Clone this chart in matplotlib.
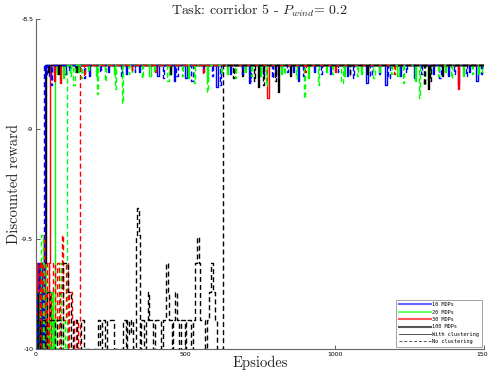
import matplotlib
matplotlib.use('Agg')
import matplotlib.pyplot as plt
from matplotlib.lines import Line2D
import numpy as np

plt.rcParams['mathtext.fontset'] = 'cm'

# plateau value reached after convergence
plateau = -8.71
n_episodes = 1500

# early (pre-convergence) step values: episodes / rewards, then convergence episode
blue_s_early_ep = [0, 3, 6, 9, 12, 15, 18, 21, 24, 27]
blue_s_early_val = [-9.61, -10, -9.61, -9.87, -9.61, -10, -9.74, -9.61, -9.87, -9.74]
blue_s_conv = 30
blue_d_early_ep = [0, 5, 10, 15, 20]
blue_d_early_val = [-9.74, -10, -9.87, -9.61, -10]
blue_d_conv = 26
green_s_early_ep = [0, 5, 10, 14, 20, 26, 30, 38, 44, 50, 56, 60]
green_s_early_val = [-10, -9.74, -10, -9.87, -10, -9.61, -10, -9.87, -10, -9.74, -10, -9.87]
green_s_conv = 64
green_d_early_ep = [0, 6, 12, 18, 22, 28, 34, 40, 48, 55, 62, 70, 78, 85, 92, 98]
green_d_early_val = [-9.87, -10, -9.74, -9.48, -10, -9.61, -9.87, -10, -9.74, -10, -9.87, -10,
                     -9.61, -10, -9.87, -10]
green_d_conv = 104
red_s_early_ep = [0, 4, 8, 12, 16, 20, 26, 30, 35, 40, 44]
red_s_early_val = [-9.61, -10, -9.74, -9.87, -9.61, -10, -9.48, -9.74, -10, -9.87, -9.61]
red_s_conv = 47
red_d_early_ep = [0, 6, 12, 18, 24, 30, 36, 42, 50, 56, 62, 70, 76, 82, 87, 92, 100, 106, 112,
                  120, 128, 134, 140]
red_d_early_val = [-9.74, -9.61, -10, -9.61, -9.74, -9.87, -9.61, -10, -9.74, -9.61, -9.87, -9.61,
                   -10, -9.74, -9.48, -9.87, -9.61, -10, -9.74, -9.87, -10, -9.87, -10]
red_d_conv = 147
black_s_early_ep = [0, 4, 8, 14, 18, 24, 28]
black_s_early_val = [-9.87, -10, -9.74, -10, -9.87, -10, -9.61]
black_s_conv = 33
black_d_early_ep = [0, 8, 14, 30, 38, 46, 62, 70, 84, 92, 108, 116, 124, 136, 150, 160, 208, 216,
                    220, 232, 238, 262, 290, 300, 304, 312, 318, 326, 334, 337, 344, 348, 352,
                    362, 368, 374, 380, 392, 398, 420, 426, 434, 441, 446, 456, 460, 466, 472,
                    480, 484, 500, 504, 520, 526, 532, 538, 546, 550, 566, 574, 580, 586, 594,
                    598, 606]
black_d_early_val = [-9.87, -10, -9.87, -10, -9.74, -9.87, -10, -9.87, -10, -9.61, -9.74, -10,
                     -9.87, -10, -9.87, -10, -9.87, -10, -9.87, -10, -9.87, -10, -9.87, -10,
                     -9.87, -9.93, -9.87, -10, -9.48, -9.36, -9.48, -10, -9.87, -10, -9.87,
                     -9.74, -9.87, -10, -9.87, -10, -9.87, -9.61, -9.74, -9.87, -10, -9.87,
                     -9.74, -9.87, -10, -9.87, -10, -9.87, -10, -9.87, -9.61, -9.49, -9.61,
                     -9.87, -10, -9.87, -9.74, -9.61, -9.74, -9.87, -10]
black_d_conv = 626

# dips below the plateau after convergence: start episode, reward, width
blue_s_dip_ep = [45, 60, 95, 130, 178, 240, 300, 345, 405, 462, 500, 560, 604, 650, 712, 760,
                 800, 860, 877, 930, 985, 1040, 1105, 1150, 1168, 1220, 1265, 1330, 1380, 1412,
                 1450, 1473]
blue_s_dip_val = [-8.76, -8.74, -8.75, -8.73, -8.76, -8.74, -8.75, -8.74, -8.76, -8.78, -8.77,
                  -8.74, -8.81, -8.75, -8.79, -8.75, -8.76, -8.74, -8.78, -8.74, -8.75, -8.76,
                  -8.79, -8.75, -8.80, -8.76, -8.77, -8.75, -8.76, -8.80, -8.74, -8.78]
blue_s_dip_w = [4, 3, 5, 3, 4, 3, 4, 3, 6, 5, 6, 3, 6, 3, 5, 4, 3, 3, 5, 3, 4, 5, 6, 3, 6, 4, 5,
                4, 3, 6, 3, 6]
blue_d_dip_ep = [35, 50, 110, 160, 215, 285, 330, 425, 470, 520, 590, 616, 690, 716, 790, 840,
                 895, 955, 1010, 1060, 1120, 1180, 1240, 1290, 1350, 1400, 1440, 1490]
blue_d_dip_val = [-8.75, -8.80, -8.74, -8.77, -8.74, -8.76, -8.74, -8.77, -8.76, -8.78, -8.76,
                  -8.80, -8.75, -8.78, -8.77, -8.74, -8.76, -8.75, -8.74, -8.77, -8.76, -8.77,
                  -8.74, -8.75, -8.77, -8.75, -8.76, -8.75]
blue_d_dip_w = [3, 3, 3, 5, 3, 4, 3, 4, 5, 5, 4, 5, 3, 5, 4, 3, 4, 3, 3, 5, 4, 5, 3, 3, 5, 3, 4, 3]
green_s_dip_ep = [70, 90, 140, 200, 260, 320, 380, 450, 510, 571, 640, 700, 750, 820, 910, 970,
                  1030, 1090, 1150, 1210, 1270, 1320, 1370, 1430, 1480]
green_s_dip_val = [-8.75, -8.77, -8.74, -8.76, -8.75, -8.74, -8.76, -8.75, -8.77, -8.78, -8.75,
                   -8.74, -8.76, -8.75, -8.77, -8.74, -8.76, -8.75, -8.74, -8.76, -8.78, -8.75,
                   -8.74, -8.76, -8.75]
green_s_dip_w = [3, 4, 3, 4, 3, 3, 4, 3, 4, 4, 3, 3, 4, 3, 4, 3, 4, 3, 3, 4, 4, 3, 3, 4, 3]
green_d_dip_ep = [115, 125, 150, 175, 203, 230, 264, 287, 310, 355, 395, 440, 490, 530, 571, 620,
                  665, 720, 770, 830, 870, 897, 944, 990, 1023, 1075, 1130, 1190, 1230, 1282,
                  1300, 1345, 1390, 1460, 1495]
green_d_dip_val = [-8.76, -8.80, -8.77, -8.74, -8.84, -8.78, -8.82, -8.88, -8.75, -8.77, -8.74,
                   -8.78, -8.76, -8.79, -8.83, -8.75, -8.77, -8.76, -8.80, -8.75, -8.77, -8.86,
                   -8.80, -8.75, -8.79, -8.76, -8.77, -8.75, -8.79, -8.86, -8.80, -8.76, -8.77,
                   -8.75, -8.74]
green_d_dip_w = [3, 4, 3, 3, 4, 3, 4, 3, 3, 4, 3, 4, 3, 4, 4, 3, 4, 3, 3, 3, 4, 4, 4, 3, 4, 3, 4,
                 3, 4, 4, 3, 3, 4, 3, 3]
red_s_dip_ep = [60, 80, 400, 774, 1000, 1412]
red_s_dip_val = [-8.78, -8.79, -8.74, -8.86, -8.74, -8.82]
red_s_dip_w = [4, 4, 3, 5, 3, 6]
red_d_dip_ep = [160, 320, 560, 900, 1200]
red_d_dip_val = [-8.76, -8.74, -8.75, -8.74, -8.75]
red_d_dip_w = [4, 3, 3, 3, 3]
black_s_dip_ep = [40, 75, 135, 450, 690, 744, 809, 850, 1110, 1312, 1360]
black_s_dip_val = [-8.74, -8.75, -8.74, -8.75, -8.76, -8.81, -8.83, -8.76, -8.75, -8.82, -8.76]
black_s_dip_w = [3, 3, 4, 3, 4, 4, 4, 3, 3, 4, 3]
black_d_dip_ep = [660, 730, 760, 800, 1050, 1300, 1320]
black_d_dip_val = [-8.77, -8.78, -8.80, -8.78, -8.76, -8.80, -8.78]
black_d_dip_w = [4, 4, 3, 3, 3, 4, 3]


def build_curve(early_ep, early_val, conv, dip_ep, dip_val, dip_w):
    # step points: early phase, plateau, then dips back to the plateau
    xs = list(early_ep) + [conv]
    ys = list(early_val) + [plateau]
    for e, v, w in zip(dip_ep, dip_val, dip_w):
        xs += [e, e + w]
        ys += [v, plateau]
    xs.append(n_episodes)
    ys.append(plateau)
    order = np.argsort(xs, kind='stable')
    return np.array(xs)[order], np.array(ys)[order]


fig = plt.figure(figsize=(4.89, 3.72), dpi=100)
ax = fig.add_axes([0.0736, 0.062, 0.916, 0.887])

dash = (0, (3.6, 2.2))
curves = [
    (blue_s_early_ep, blue_s_early_val, blue_s_conv, blue_s_dip_ep, blue_s_dip_val, blue_s_dip_w, 'b', '-'),
    (green_s_early_ep, green_s_early_val, green_s_conv, green_s_dip_ep, green_s_dip_val, green_s_dip_w, '#00ff00', '-'),
    (red_s_early_ep, red_s_early_val, red_s_conv, red_s_dip_ep, red_s_dip_val, red_s_dip_w, 'r', '-'),
    (black_s_early_ep, black_s_early_val, black_s_conv, black_s_dip_ep, black_s_dip_val, black_s_dip_w, 'k', '-'),
    (blue_d_early_ep, blue_d_early_val, blue_d_conv, blue_d_dip_ep, blue_d_dip_val, blue_d_dip_w, 'b', dash),
    (green_d_early_ep, green_d_early_val, green_d_conv, green_d_dip_ep, green_d_dip_val, green_d_dip_w, '#00ff00', dash),
    (red_d_early_ep, red_d_early_val, red_d_conv, red_d_dip_ep, red_d_dip_val, red_d_dip_w, 'r', dash),
    (black_d_early_ep, black_d_early_val, black_d_conv, black_d_dip_ep, black_d_dip_val, black_d_dip_w, 'k', dash),
]
for e_ep, e_val, conv, d_ep, d_val, d_w, col, ls in curves:
    x, y = build_curve(e_ep, e_val, conv, d_ep, d_val, d_w)
    ax.plot(x, y, color=col, linestyle=ls, linewidth=1.0, drawstyle='steps-post')

ax.set_xlim(0, 1500)
ax.set_ylim(-10, -8.5)
ax.set_xticks([0, 500, 1000, 1500])
ax.set_yticks([-10, -9.5, -9, -8.5])
ax.set_yticklabels(['-10', '-9.5', '-9', '-8.5'])
ax.tick_params(direction='in', labelsize=4.5, length=3, width=0.6, colors='#444444',
               labelcolor='black', pad=2)
for side in ['top', 'right']:
    ax.spines[side].set_visible(False)
for side in ['left', 'bottom']:
    ax.spines[side].set_color('#666666')
    ax.spines[side].set_linewidth(0.8)

ax.set_title('Task: corridor 5 - $P_{wind}$= 0.2', fontfamily='cmr10', fontsize=10, pad=-1,
             color='#222222')
ax.set_xlabel('Epsiodes', fontfamily='cmr10', fontsize=10.5, labelpad=-1, color='#222222')
ax.set_ylabel('Discounted reward', fontfamily='cmr10', fontsize=10.5, labelpad=0,
              color='#222222')

handles = [
    Line2D([], [], color='#6666ff', lw=1.5),
    Line2D([], [], color='#66ff66', lw=1.5),
    Line2D([], [], color='#ff5555', lw=1.5),
    Line2D([], [], color='#555555', lw=1.5),
    Line2D([], [], color='#555555', lw=0.7),
    Line2D([], [], color='#555555', lw=0.7, linestyle=(0, (3, 2))),
]
labels = ['10 MDPs', '20 MDPs', '30 MDPs', '100 MDPs', 'With clustering', 'No clustering']
leg = ax.legend(handles, labels, loc='lower right', frameon=True, fancybox=False,
                edgecolor='#777777', handlelength=6, handletextpad=0.3, labelspacing=0.45,
                borderpad=0.5, borderaxespad=0.4, prop={'family': 'DejaVu Sans Mono', 'size': 3.8})
leg.get_frame().set_linewidth(0.6)

fig.savefig('out.png', dpi=100)
